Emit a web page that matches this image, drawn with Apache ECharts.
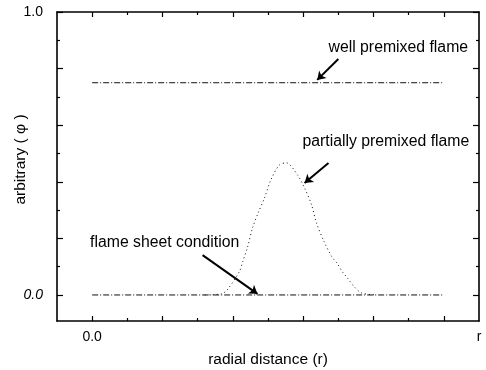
<!DOCTYPE html>
<html>
<head>
<meta charset="utf-8">
<script src="https://cdn.jsdelivr.net/npm/echarts@6/dist/echarts.min.js"></script>
<style>html,body{margin:0;padding:0;background:#fff}#c{width:486px;height:370px}</style>
</head>
<body>
<div id="c"></div>
<script>
// ---- data ----
var wellX = [0, 5];
var wellY = [0.75, 0.75];
var sheetX = [0, 5];
var sheetY = [0, 0];
var partialX = [1.60, 1.84, 1.92, 2.09, 2.14, 2.21, 2.28, 2.36, 2.45, 2.54, 2.66, 2.76, 2.92, 3.02, 3.12, 3.19, 3.30, 3.41, 3.48, 3.56, 3.63, 3.73, 3.83, 4.05];
var partialY = [0.0, 0.004, 0.018, 0.081, 0.117, 0.170, 0.237, 0.290, 0.343, 0.406, 0.459, 0.467, 0.424, 0.378, 0.318, 0.254, 0.187, 0.134, 0.113, 0.081, 0.060, 0.028, 0.007, 0.0];
var xMajorTicks = [0, 1, 2, 3, 4, 5];
var xMinorTicks = [0.5, 1.5, 2.5, 3.5, 4.5];
var xLabelValues = [0, 5.5];
var xLabelTexts = ['0.0', 'r'];
var yMajorTicks = [0, 0.2, 0.4, 0.6, 0.8, 1.0];
var yMinorTicks = [0.1, 0.3, 0.5, 0.7, 0.9];
var yLabelValues = [0, 1.0];
var yLabelTexts = ['0.0', '1.0'];
var annotTexts = ['well premixed flame', 'partially premixed flame', 'flame sheet condition'];
var annotTextPos = [[3.36, 0.873], [2.99, 0.541], [-0.03, 0.184]];
var arrowFrom = [[3.50, 0.834], [3.36, 0.466], [1.57, 0.141]];
var arrowTo = [[3.20, 0.760], [3.02, 0.396], [2.35, 0.004]];

var FONT = 'Liberation Sans, Arial, Helvetica, sans-serif';
function zip(xs, ys) { return xs.map(function (x, i) { return [x, ys[i]]; }); }

var chart = echarts.init(document.getElementById('c'), null, { renderer: 'canvas' });
var lineStyleAxis = { color: '#000', width: 1.6 };

function xAx(pos, ticks, len, showLine, labels) {
  return {
    type: 'value', position: pos, min: -0.5, max: 5.5,
    nameMoveOverlap: false,
    axisLine: { show: showLine, onZero: false, lineStyle: lineStyleAxis },
    axisTick: { show: true, inside: true, length: len, customValues: ticks, lineStyle: { color: '#000', width: 1.2 } },
    axisLabel: labels ? {
      show: true, customValues: xLabelValues, margin: 9, color: '#000', fontSize: 14, fontFamily: FONT,
      showMaxLabel: true, showMinLabel: true,
      formatter: function (v) { var i = xLabelValues.indexOf(v); return i >= 0 ? xLabelTexts[i] : ''; }
    } : { show: false },
    splitLine: { show: false }
  };
}
function yAx(pos, ticks, len, showLine, labels) {
  return {
    type: 'value', position: pos, min: -0.092, max: 1.0,
    nameMoveOverlap: false,
    axisLine: { show: showLine, onZero: false, lineStyle: lineStyleAxis },
    axisTick: { show: true, inside: true, length: len, customValues: ticks, lineStyle: { color: '#000', width: 1.2 } },
    axisLabel: labels ? {
      show: true, customValues: yLabelValues, margin: 14, color: '#000', fontSize: 14, fontFamily: FONT,
      showMaxLabel: true, showMinLabel: true,
      formatter: function (v) { var i = yLabelValues.indexOf(v); if (i < 0) return ''; return v === 0 ? '{it|' + yLabelTexts[i] + '}' : yLabelTexts[i]; },
      rich: { it: { fontStyle: 'italic', fontSize: 14, fontFamily: FONT, color: '#000' } }
    } : { show: false },
    splitLine: { show: false }
  };
}

var xAxes = [
  xAx('bottom', xMajorTicks, 5, true, true),
  xAx('bottom', xMinorTicks, 3, false, false),
  xAx('top', xMajorTicks, 5, true, false),
  xAx('top', xMinorTicks, 3, false, false)
];
xAxes[0].name = 'radial distance (r)';
xAxes[0].nameLocation = 'middle';
xAxes[0].nameGap = 31;
xAxes[0].nameTextStyle = { color: '#000', fontSize: 15.5, fontFamily: FONT };

var yAxes = [
  yAx('left', yMajorTicks, 6, true, true),
  yAx('left', yMinorTicks, 3, false, false),
  yAx('right', yMajorTicks, 6, true, false),
  yAx('right', yMinorTicks, 3, false, false)
];
yAxes[0].name = 'arbitrary ( \u03C6 )';
yAxes[0].nameLocation = 'middle';
yAxes[0].nameGap = 28;
yAxes[0].nameTextStyle = { color: '#000', fontSize: 15.5, fontFamily: FONT, padding: [0, 0, 0, 14] };

var option = {
  backgroundColor: '#fff',
  animation: false,
  grid: { left: 57, right: 7, top: 12, bottom: 49, containLabel: false, outerBoundsMode: 'none' },
  xAxis: xAxes,
  yAxis: yAxes,
  series: [
    {
      name: 'well premixed flame', type: 'line', data: zip(wellX, wellY), symbol: 'none',
      lineStyle: { color: '#111', width: 1, type: [6, 2, 1, 2] }, z: 3
    },
    {
      name: 'flame sheet condition', type: 'line', data: zip(sheetX, sheetY), symbol: 'none',
      lineStyle: { color: '#111', width: 1, type: [6, 2, 1, 2] }, z: 3
    },
    {
      name: 'partially premixed flame', type: 'line', data: zip(partialX, partialY), symbol: 'none',
      smooth: 0.3,
      lineStyle: { color: '#111', width: 1, type: [1, 3] }, z: 3,
      markLine: {
        silent: true, animation: false,
        symbol: ['none', 'arrow'], symbolSize: 8,
        label: { show: false },
        lineStyle: { color: '#000', width: 2, type: 'solid' },
        itemStyle: { color: '#000' },
        data: arrowFrom.map(function (f, i) { return [{ coord: f }, { coord: arrowTo[i] }]; })
      }
    }
  ]
};
chart.setOption(option);

var g = annotTexts.map(function (t, i) {
  var p = chart.convertToPixel({ xAxisIndex: 0, yAxisIndex: 0 }, annotTextPos[i]);
  return {
    type: 'text', x: p[0], y: p[1],
    style: { text: t, fill: '#000', font: '15.8px ' + FONT, textAlign: 'left', textVerticalAlign: 'middle' },
    z: 10
  };
});
chart.setOption({ graphic: g });
</script>
</body>
</html>
